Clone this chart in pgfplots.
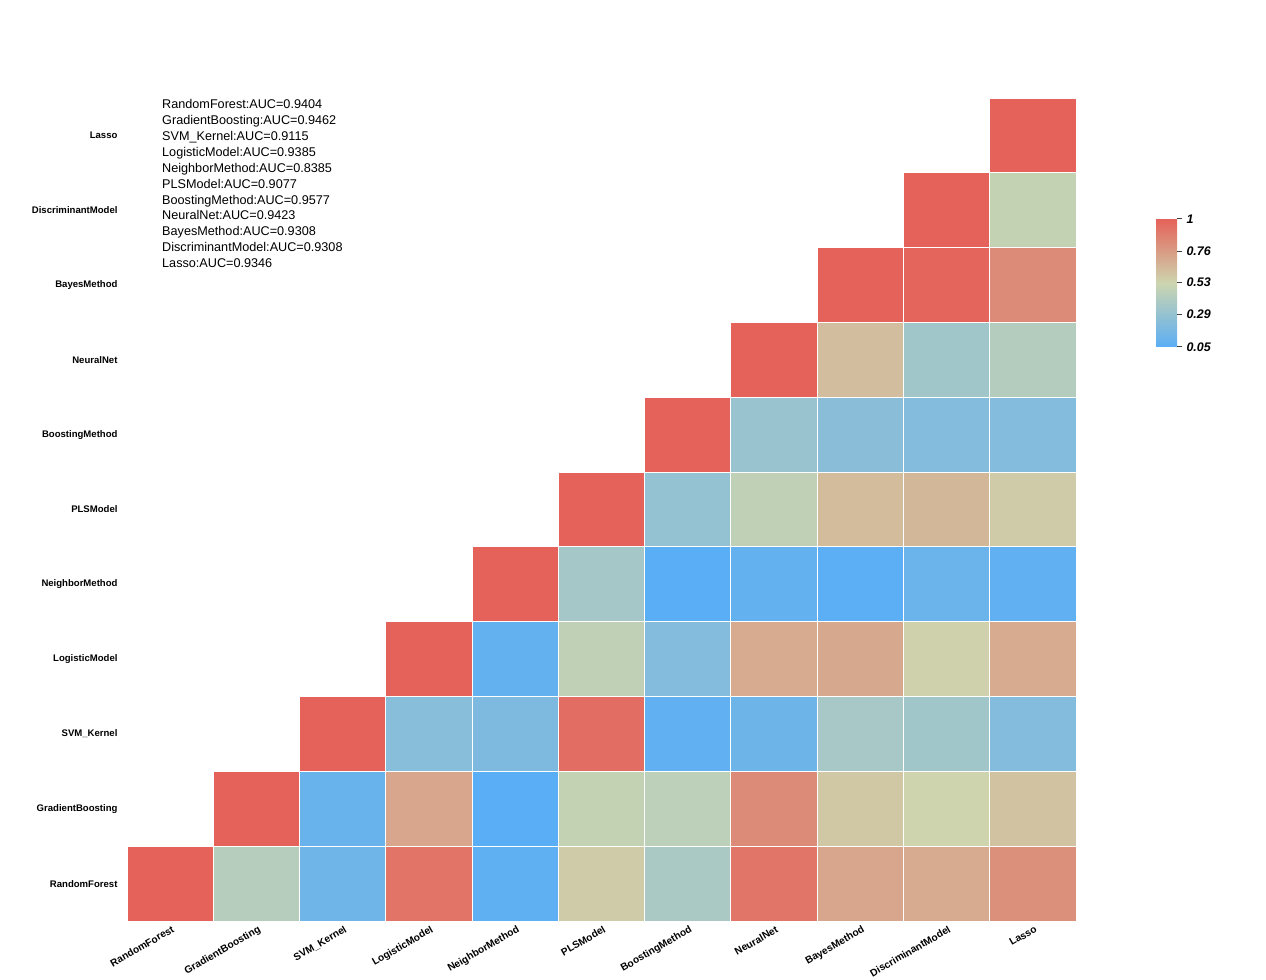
\documentclass[border=0pt]{standalone}
\usepackage{fontspec}
\setmainfont{Liberation Sans}
\usepackage{pgfplots}
\usepackage{pgfplotstable}
\pgfplotsset{compat=1.18}

% one heatmap cell: 949bp/11 wide, 823bp/11 tall
\pgfdeclareplotmark{cell}{%
  \pgfpathrectangle{\pgfpoint{-43.136bp}{-37.409bp}}{\pgfpoint{86.273bp}{74.818bp}}%
  \pgfusepathqfillstroke}

% pairwise correlation of model predictions (col, row, value)
\pgfplotstableread{
x y v
0 0 1
1 0 0.43
2 0 0.14
3 0 0.93
4 0 0.07
5 0 0.57
6 0 0.38
7 0 0.92
8 0 0.72
9 0 0.70
10 0 0.81
1 1 1
2 1 0.11
3 1 0.72
4 1 0.05
5 1 0.49
6 1 0.46
7 1 0.83
8 1 0.58
9 1 0.53
10 1 0.60
2 2 1
3 2 0.24
4 2 0.20
5 2 0.95
6 2 0.08
7 2 0.13
8 2 0.37
9 2 0.34
10 2 0.22
3 3 1
4 3 0.09
5 3 0.47
6 3 0.22
7 3 0.70
8 3 0.71
9 3 0.54
10 3 0.70
4 4 1
5 4 0.36
6 4 0.05
7 4 0.09
8 4 0.06
9 4 0.12
10 4 0.08
5 5 1
6 5 0.29
7 5 0.47
8 5 0.63
9 5 0.65
10 5 0.57
6 6 1
7 6 0.31
8 6 0.25
9 6 0.22
10 6 0.22
7 7 1
8 7 0.62
9 7 0.34
10 7 0.42
8 8 1
9 8 0.99
10 8 0.83
9 9 1
10 9 0.49
10 10 1
}\corrdata

\begin{document}
\begin{tikzpicture}
\path[use as bounding box] (0,0) rectangle (1266bp,980bp);
\begin{axis}[
  at={(127bp,59bp)}, anchor=south west,
  scale only axis, width=949bp, height=823bp,
  xmin=-0.5, xmax=10.5, ymin=-0.5, ymax=10.5,
  clip=false,
  axis line style={draw=none},
  tick style={draw=none},
  xtick={0,...,10}, ytick={0,...,10},
  xticklabels={RandomForest,GradientBoosting,SVM\_Kernel,LogisticModel,NeighborMethod,PLSModel,BoostingMethod,NeuralNet,BayesMethod,DiscriminantModel,Lasso},
  yticklabels={RandomForest,GradientBoosting,SVM\_Kernel,LogisticModel,NeighborMethod,PLSModel,BoostingMethod,NeuralNet,BayesMethod,DiscriminantModel,Lasso},
  xticklabel style={rotate=30, anchor=north east, font=\fontsize{10.2}{12}\selectfont\bfseries, inner sep=1bp, yshift=-3bp},
  yticklabel style={anchor=east, font=\fontsize{9.6}{11}\selectfont\bfseries, xshift=-6bp},
  colormap={heat}{rgb255(0cm)=(90,174,245) rgb255(1cm)=(205,213,175) rgb255(2cm)=(229,98,90)},
  point meta min=0.05, point meta max=1,
  colorbar,
  colorbar/width=21bp,
  colorbar style={
    at={(parent axis.north east)}, anchor=north west,
    xshift=71.5bp, yshift=-121bp,
    scale only axis, width=21bp, height=128bp,
    axis line style={draw=none},
    xtick=\empty,
    ytick={0.05,0.29,0.53,0.76,1},
    yticklabels={0.05,0.29,0.53,0.76,1},
    ytick pos=right,
    yticklabel style={font=\fontsize{12.5}{14}\selectfont\bfseries\itshape, xshift=1bp},
    ytick style={draw=black!75, line width=1bp},
    tick align=outside, major tick length=5bp,
  },
]
\addplot[scatter, only marks, mark=cell, point meta=explicit,
  scatter/use mapped color={draw=white, fill=mapped color},
  mark options={line width=0.9bp}]
  table[x=x, y=y, meta=v] {\corrdata};
\node[anchor=north west, align=left, inner sep=0pt,
  font=\fontsize{12.7}{16}\selectfont]
  at (rel axis cs:0,1) [xshift=35bp, yshift=-1bp] {%
  RandomForest:AUC=0.9404\\
  GradientBoosting:AUC=0.9462\\
  SVM\_Kernel:AUC=0.9115\\
  LogisticModel:AUC=0.9385\\
  NeighborMethod:AUC=0.8385\\
  PLSModel:AUC=0.9077\\
  BoostingMethod:AUC=0.9577\\
  NeuralNet:AUC=0.9423\\
  BayesMethod:AUC=0.9308\\
  DiscriminantModel:AUC=0.9308\\
  Lasso:AUC=0.9346};
\end{axis}
\end{tikzpicture}
\end{document}
